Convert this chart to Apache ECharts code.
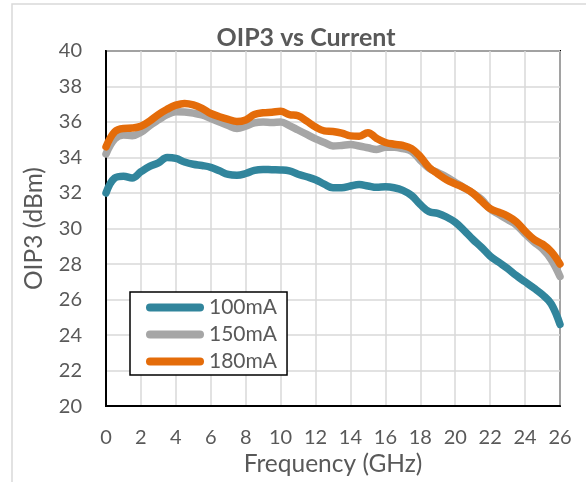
<!DOCTYPE html>
<html><head><meta charset="utf-8">
<script src="https://cdn.jsdelivr.net/npm/echarts@6/dist/echarts.min.js"></script>
<style>html,body{margin:0;padding:0;background:#fff}#c{width:586px;height:482px}</style>
</head><body><div id="c"></div>
<script>
const freq = [0,0.5,1,1.5,2,2.5,3,3.5,4,4.5,5,5.5,6,6.5,7,7.5,8,8.5,9,9.5,10,10.5,11,11.5,12,12.5,13,13.5,14,14.5,15,15.5,16,16.5,17,17.5,18,18.5,19,19.5,20,20.5,21,21.5,22,22.5,23,23.5,24,24.5,25,25.5,26];
const s100 = [32.0,32.85,32.95,32.85,33.2,33.5,33.7,34.0,33.95,33.75,33.62,33.55,33.45,33.25,33.05,33.0,33.1,33.28,33.33,33.31,33.3,33.25,33.06,32.92,32.75,32.5,32.3,32.3,32.4,32.48,32.4,32.32,32.35,32.3,32.15,31.86,31.35,30.95,30.85,30.65,30.35,29.9,29.4,28.95,28.45,28.1,27.75,27.35,27.0,26.65,26.27,25.75,24.6];
const s150 = [34.2,35.05,35.27,35.23,35.42,35.8,36.12,36.42,36.58,36.56,36.5,36.4,36.2,36.0,35.8,35.64,35.76,35.95,36.0,35.97,36.0,35.8,35.55,35.3,35.05,34.85,34.65,34.68,34.73,34.65,34.55,34.45,34.58,34.58,34.5,34.35,33.85,33.4,33.15,32.9,32.6,32.3,32.0,31.65,31.1,30.8,30.5,30.2,29.7,29.25,28.85,28.25,27.3];
const s180 = [34.6,35.45,35.64,35.66,35.76,36.05,36.42,36.72,36.95,37.05,36.97,36.77,36.48,36.3,36.15,36.03,36.12,36.42,36.52,36.55,36.6,36.42,36.35,36.05,35.72,35.5,35.47,35.38,35.22,35.2,35.4,35.08,34.85,34.75,34.68,34.5,34.05,33.45,33.08,32.75,32.52,32.3,32.0,31.55,31.12,30.92,30.7,30.38,29.85,29.4,29.12,28.7,28.0];
const seriesNames = ['100mA','150mA','180mA'];
const title = 'OIP3 vs Current';
const xName = 'Frequency (GHz)';
const yName = 'OIP3 (dBm)';

const colors = ['#31859C','#A6A6A6','#E46C0A'];
const font = 'Lato, "Open Sans", sans-serif';
const pair = arr => freq.map((f,i)=>[f,arr[i]]);
const chart = echarts.init(document.getElementById('c'), null, {renderer:'canvas'});
chart.setOption({
  animation:false,
  backgroundColor:'#fff',
  graphic:[{type:'rect',shape:{x:12,y:4,width:620,height:520},style:{fill:'none',stroke:'#d9d9d9',lineWidth:1.5},silent:true}],
  title:{text:title,top:20,left:301,textAlign:'center',textStyle:{fontFamily:font,fontSize:25,fontWeight:'bold',color:'#595959'}},
  grid:{left:106,right:26,top:51,bottom:69,show:true,borderColor:'#000',borderWidth:2,containLabel:false},
  xAxis:{type:'value',min:0,max:26,interval:2,name:xName,nameLocation:'middle',nameGap:36,
    nameTextStyle:{fontFamily:font,fontSize:24.5,color:'#595959'},
    axisLine:{show:true,lineStyle:{color:'#000',width:2}},axisTick:{show:false},
    axisLabel:{margin:21,fontFamily:font,fontSize:20,color:'#595959'},
    splitLine:{show:true,lineStyle:{color:'#d9d9d9',width:1.5}}},
  yAxis:{type:'value',min:20,max:40,interval:2,name:yName,nameLocation:'middle',nameGap:59,
    nameTextStyle:{fontFamily:font,fontSize:24.5,color:'#595959'},
    axisLine:{show:true,lineStyle:{color:'#000',width:2}},axisTick:{show:false},
    axisLabel:{margin:24,fontFamily:font,fontSize:20,color:'#595959'},
    splitLine:{show:true,lineStyle:{color:'#d9d9d9',width:1.5}}},
  legend:{orient:'vertical',left:130,top:292,padding:[5,10,3,16],itemGap:6,
    itemWidth:58,itemHeight:8,borderColor:'#000',borderWidth:1.5,backgroundColor:'#fff',
    icon:'path://M4,0 H54 A4,4 0 0 1 54,8 H4 A4,4 0 0 1 4,0 Z',
    textStyle:{fontFamily:font,fontSize:21,lineHeight:21,color:'#595959'},
    data:seriesNames},
  series:[s100,s150,s180].map((arr,i)=>({
    name:seriesNames[i],type:'line',data:pair(arr),smooth:0.4,showSymbol:false,symbol:'none',
    color:colors[i],lineStyle:{width:7.5,color:colors[i],cap:'round',join:'round'},z:2+i,clip:true}))
});
</script></body></html>
